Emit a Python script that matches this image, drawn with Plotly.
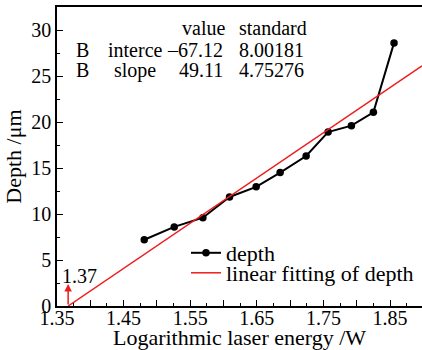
import plotly.graph_objects as go

# Data
energy = [1.481, 1.526, 1.569, 1.609, 1.649, 1.685, 1.724, 1.757, 1.792, 1.825, 1.856]
depth = [7.2, 8.6, 9.6, 11.85, 12.95, 14.5, 16.3, 18.9, 19.6, 21.05, 28.6]
intercept = -67.12
slope = 49.11
intercept_se = 8.00181
slope_se = 4.75276
x_range = [1.35, 1.898]
y_range = [0, 32.5]
x_tickvals = [1.35, 1.40, 1.45, 1.50, 1.55, 1.60, 1.65, 1.70, 1.75, 1.80, 1.85]
x_ticktext = ["1.35", "", "1.45", "", "1.55", "", "1.65", "", "1.75", "", "1.85"]
y_tickvals = [0, 5, 10, 15, 20, 25, 30]

x0 = -intercept / slope
fit_x = [x0, x_range[1]]
fit_y = [slope * v + intercept for v in fit_x]

FONT = "Liberation Serif, Times New Roman, serif"
W, H = 422, 350
ML, MR, MT, MB = 57, 0, 7, 44


def F(size=20):
    return dict(family=FONT, size=size, color="black")


def px2paper(px, py):
    return (px - ML) / (W - ML - MR), 1 - (py - MT) / (H - MT - MB)


fig = go.Figure()
fig.add_trace(go.Scatter(
    x=energy, y=depth, mode="lines+markers", name="depth", legend="legend",
    line=dict(color="black", width=2), marker=dict(color="black", size=7.5),
))
fig.add_trace(go.Scatter(
    x=fit_x, y=fit_y, mode="lines", name="linear fitting of depth", legend="legend2",
    line=dict(color="#ee1c1c", width=1.5),
))

lx1, ly1 = px2paper(186, 253)
lx2, ly2 = px2paper(186, 273)
fig.update_layout(
    width=W, height=H,
    margin=dict(l=ML, r=MR, t=MT, b=MB),
    paper_bgcolor="white", plot_bgcolor="white",
    font=F(),
    showlegend=True,
    legend=dict(x=lx1, y=ly1, xanchor="left", yanchor="middle",
                bgcolor="rgba(0,0,0,0)", itemwidth=30, font=F(22)),
    legend2=dict(x=lx2, y=ly2, xanchor="left", yanchor="middle",
                 bgcolor="rgba(0,0,0,0)", itemwidth=30, font=F(22)),
    xaxis=dict(range=x_range, tickmode="array", tickvals=x_tickvals, ticktext=x_ticktext,
               ticks="inside", ticklen=6, tickwidth=1.2, tickcolor="black",
               showline=True, linecolor="black", linewidth=1.5, mirror=True,
               showgrid=False, zeroline=False, ticklabelstandoff=-7,
               minor=dict(dtick=0.025, tick0=1.35, ticks="inside", ticklen=3, tickcolor="black", showgrid=False),
               title=dict(text="Logarithmic laser energy /W", standoff=3, font=F(22)),
               tickfont=F()),
    yaxis=dict(range=y_range, tickmode="array", tickvals=y_tickvals,
               ticks="inside", ticklen=6, tickwidth=1.2, tickcolor="black",
               showline=True, linecolor="black", linewidth=1.5, mirror=False,
               showgrid=False, zeroline=False,
               minor=dict(dtick=2.5, tick0=0, ticks="inside", ticklen=3, tickcolor="black", showgrid=False),
               title=dict(text="Depth /μm", standoff=4, font=F(22)),
               tickfont=F()),
)

# red arrow marking the x-intercept
fig.add_annotation(x=x0, y=2.4, ax=x0, ay=0, axref="x", ayref="y", xref="x", yref="y",
                   text="", showarrow=True, arrowhead=2, arrowsize=1, arrowwidth=1.5,
                   arrowcolor="#ee1c1c")
lbx, lby = px2paper(60, 276)
fig.add_annotation(x=lbx, y=lby, xref="paper", yref="paper", text=f"{x0:.2f}", showarrow=False,
                   xanchor="left", yanchor="middle", font=F())

# statistics table
rows = [
    ("", "", "value", "standard"),
    ("B", "interce", f"\u2013{abs(intercept):.2f}", f"{intercept_se:.5f}"),
    ("B", "slope", f"{slope:.2f}", f"{slope_se:.5f}"),
]
row_y = [28, 50, 70]
col_x = [(82, "center"), (135, "center"), (225, "right"), (237, "left")]
for r, ypix in zip(rows, row_y):
    for (xpix, anchor), txt in zip(col_x, r):
        if not txt:
            continue
        if txt == "value":
            xpix, anchor = 180, "left"
        ax_, ay_ = px2paper(xpix, ypix)
        fig.add_annotation(x=ax_, y=ay_, xref="paper", yref="paper",
                           text=txt, showarrow=False, xanchor=anchor, yanchor="middle",
                           font=F())

fig.write_html("out.html")
